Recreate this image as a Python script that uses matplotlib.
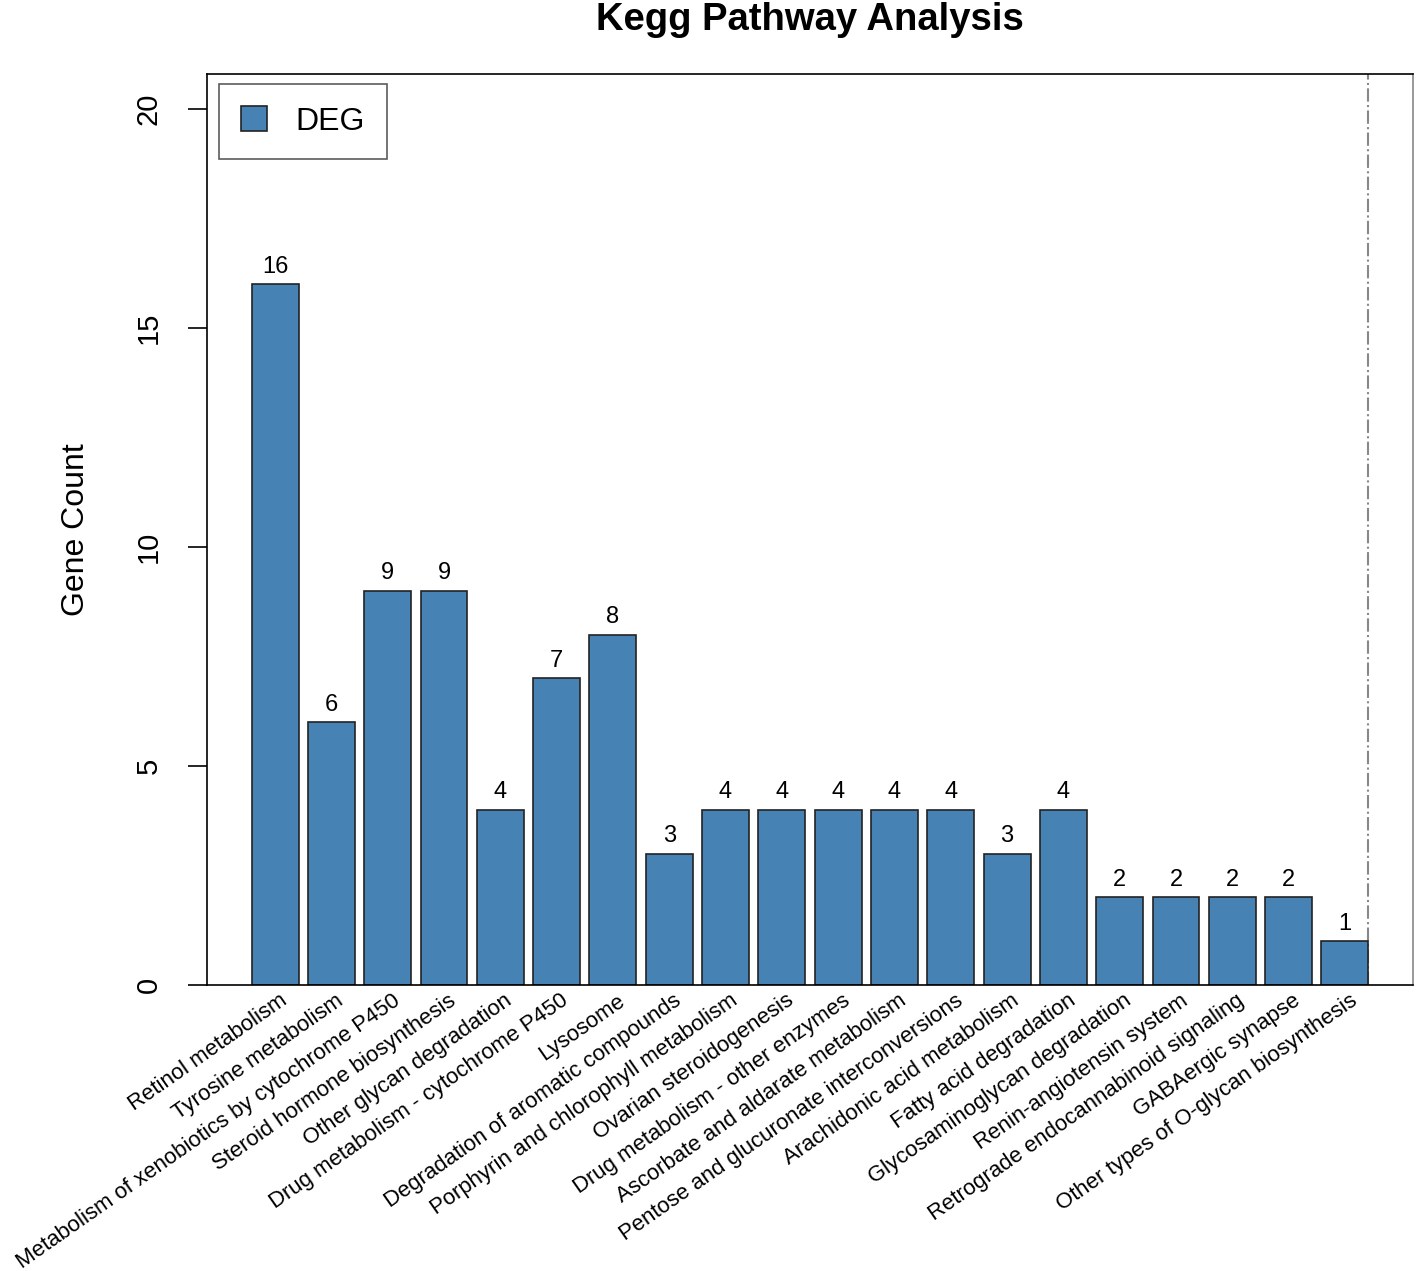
import numpy as np
import matplotlib.pyplot as plt

pathways = [
    "Retinol metabolism",
    "Tyrosine metabolism",
    "Metabolism of xenobiotics by cytochrome P450",
    "Steroid hormone biosynthesis",
    "Other glycan degradation",
    "Drug metabolism - cytochrome P450",
    "Lysosome",
    "Degradation of aromatic compounds",
    "Porphyrin and chlorophyll metabolism",
    "Ovarian steroidogenesis",
    "Drug metabolism - other enzymes",
    "Ascorbate and aldarate metabolism",
    "Pentose and glucuronate interconversions",
    "Arachidonic acid metabolism",
    "Fatty acid degradation",
    "Glycosaminoglycan degradation",
    "Renin-angiotensin system",
    "Retrograde endocannabinoid signaling",
    "GABAergic synapse",
    "Other types of O-glycan biosynthesis",
]
gene_counts = [16, 6, 9, 9, 4, 7, 8, 3, 4, 4, 4, 4, 4, 3, 4, 2, 2, 2, 2, 1]
y_ticks = [0, 5, 10, 15, 20]

plt.rcParams['font.family'] = ['Liberation Sans', 'DejaVu Sans']

fig = plt.figure(figsize=(14.16, 12.71), dpi=100)
ax = fig.add_axes([207 / 1416, 1 - 985 / 1271, (1413 - 207) / 1416, (985 - 74) / 1271])

x = np.arange(len(pathways))
bar_w = 1 / 1.2
ax.bar(x, gene_counts, width=bar_w, color="#4682B4", edgecolor="#222222",
       linewidth=1.2, label="DEG", zorder=2)

# value labels above bars
for xi, v in zip(x, gene_counts):
    ax.text(xi, v + 0.15, str(v), ha="center", va="bottom", fontsize=17)

# rotated category labels
for xi, name in zip(x, pathways):
    ax.text(xi + 0.07, -0.12, name, rotation=35, ha="right", va="top",
            rotation_mode="anchor", fontsize=15.9, clip_on=False)

# dash-dot line at right edge of last bar
ax.axvline(x[-1] + bar_w / 2, color="#888888", linestyle="-.", linewidth=1.5, zorder=1)

ax.set_xlim(-1.21, len(pathways) - 1 + 1.21)
ax.set_ylim(0, 20.8)
ax.set_xticks([])
ax.set_yticks(y_ticks)
ax.set_yticklabels([str(t) for t in y_ticks], rotation=90, va="center", fontsize=21)
ax.tick_params(axis="y", length=14, width=1.2, pad=18)
ax.set_ylabel("Gene Count", fontsize=23, labelpad=31)
for s in ax.spines.values():
    s.set_linewidth(1.2)
ax.spines["right"].set_color("#888888")

fig.suptitle("Kegg Pathway Analysis", fontsize=27.5, fontweight="bold",
             x=810 / 1416, y=1 - 2 / 1271, va="top")

leg = ax.legend(loc="upper left", fontsize=23, fancybox=False, edgecolor="#333333",
                handlelength=0.8, handleheight=0.8, borderpad=0.7, handletextpad=0.9,
                borderaxespad=0, bbox_to_anchor=(12 / 1206, 1 - 10 / 911))
leg.get_frame().set_linewidth(1.2)

fig.savefig("out.png", dpi=100)
